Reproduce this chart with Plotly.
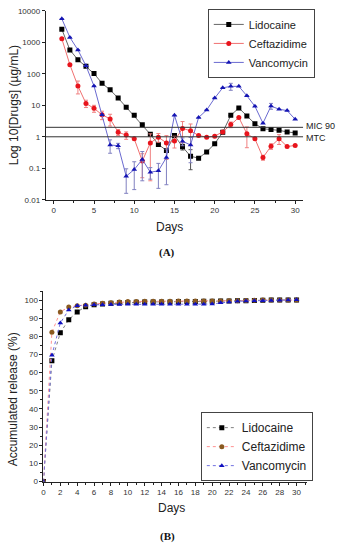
import math
import plotly.graph_objects as go

# ---------------- Panel A data (log scale) ----------------
days_A = list(range(1, 31))
lido_A = [2600, 575, 280, 174, 102, 50, 31, 17, 8.7, 4.8, 2.4, 1.2, 0.57, 0.37, 1.1,
          0.48, 0.24, 0.21, 0.33, 0.6, 1.4, 4.8, 8.2, 4.6, 2.6, 1.8, 1.7, 1.6, 1.43, 1.33]
ceft_A = [1300, 195, 41, 11.5, 8, 5, 3.7, 1.4, 1.13, 0.86, 0.17, 0.64, 0.97, 0.64, 0.74,
          1.85, 1.55, 1.1, 0.97, 1.05, 1.43, 2.45, 4.1, 1.25, 0.86, 0.22, 0.5, 0.87, 0.49, 0.53]
vanc_A = [5600, 1440, 575, 180, 41, 5, 0.55, 0.52, 0.056, 0.091, 0.19, 0.075, 0.083, 0.22, 4.8,
          0.72, 0.55, 4.1, 7.1, 17, 36, 40, 40, 20, 9.3, 2.7, 9.5, 7.5, 6.8, 3.6]
lido_A_err = [0, 0, 0, 0, 0, 0, 0, 0, 0, 0, 0, 0, 0, 0, 0,
              0.1, 0.15, 0, 0, 0, 0, 0, 0, 0, 0, 0, 0, 0, 0, 0]
ceft_A_err = [0, 0, 18, 3, 2, 1.5, 1.5, 0.3, 0.3, 0, 0.12, 0.6, 0.3, 0.45, 0.3,
              1.2, 1.0, 0, 0, 0, 0, 0.5, 0, 0.8, 0, 0.04, 0.1, 0.3, 0, 0]
vanc_A_err = [0, 0, 0, 0, 0, 0, 0.25, 0.1, 0.04, 0.07, 0.15, 0.03, 0.06, 0.19, 0,
              0.2, 0.4, 0, 0, 0, 0, 10, 0, 0, 0, 0, 2, 0, 0, 0]
mic90 = 2
mtc = 1
ref_labels = ["MIC 90", "MTC"]

# ---------------- Panel B data (cumulative release) ----------------
days_B = list(range(0, 31))
lido_B = [0, 66.6, 82, 89.2, 93.5, 96.4, 97.5, 97.8, 98.2, 98.5, 98.7, 98.8, 99, 99, 99, 99,
          99.2, 99.2, 99.2, 99.3, 99.3, 99.5, 99.5, 99.6, 99.7, 99.8, 99.9, 100, 100, 100, 100]
ceft_B = [0, 82.3, 93.5, 96.2, 96.9, 97.2, 97.8, 98.3, 98.6, 99, 99.2, 99.2, 99.3, 99.3, 99.4,
          99.4, 99.5, 99.5, 99.5, 99.5, 99.5, 99.5, 99.6, 99.7, 99.8, 99.9, 100, 100, 100, 100, 100]
vanc_B = [0, 69.6, 87.4, 94.6, 96.9, 97.2, 97.4, 97.5, 97.6, 97.6, 97.7, 97.7, 97.7, 97.7, 97.7,
          97.7, 97.7, 97.7, 97.7, 97.7, 97.8, 98.5, 99.0, 99.3, 99.5, 99.6, 99.7, 99.8, 99.9, 100, 100.2]

names = ["Lidocaine", "Ceftazidime", "Vancomycin"]

W, H = 338, 550
def px(x):
    return x / W
def py(y):
    return 1 - y / H

fig = go.Figure()

# Panel A traces
styleA = [
    dict(name=names[0], y=lido_A, err=lido_A_err, mc="#000000", lc="#666666", sym="square", ec="#555555"),
    dict(name=names[1], y=ceft_A, err=ceft_A_err, mc="#e8141c", lc="#f07070", sym="circle", ec="#f08080"),
    dict(name=names[2], y=vanc_A, err=vanc_A_err, mc="#1414b4", lc="#6a6ad0", sym="triangle-up", ec="#8080c0"),
]
for s in styleA:
    fig.add_trace(go.Scatter(
        x=days_A, y=s["y"], name=s["name"], mode="lines+markers",
        line=dict(color=s["lc"], width=1),
        marker=dict(color=s["mc"], symbol=s["sym"], size=5),
        error_y=dict(type="data", array=s["err"], color=s["ec"], thickness=1, width=2),
        xaxis="x", yaxis="y", legend="legend",
    ))

# Panel B traces
styleB = [
    dict(name=names[0], y=lido_B, mc="#000000", lc="#808080", sym="square"),
    dict(name=names[1], y=ceft_B, mc="#8a5a20", lc="#ff9090", sym="circle"),
    dict(name=names[2], y=vanc_B, mc="#1010c0", lc="#7070e0", sym="triangle-up"),
]
for s in styleB:
    fig.add_trace(go.Scatter(
        x=days_B, y=s["y"], name=s["name"], mode="lines+markers",
        line=dict(color=s["lc"], width=1, dash="dot"),
        marker=dict(color=s["mc"], symbol=s["sym"], size=5),
        xaxis="x2", yaxis="y2", legend="legend2",
    ))

# Reference lines
for v in (mic90, mtc):
    fig.add_shape(type="line", xref="x", yref="y", x0=-1, x1=31, y0=v, y1=v,
                  line=dict(color="#333333", width=1))

tickfont = dict(family="Arial, Liberation Sans, sans-serif", size=8, color="#333333")
axis_common = dict(showline=True, linecolor="#222222", linewidth=1, ticks="outside",
                   ticklen=3, tickcolor="#222222", showgrid=False, zeroline=False,
                   tickfont=tickfont, mirror=False)

fig.update_layout(
    width=W, height=H,
    margin=dict(l=0, r=0, t=0, b=0),
    paper_bgcolor="white", plot_bgcolor="white",
    showlegend=True,
    xaxis=dict(domain=[px(44), px(303)], range=[-1, 31], anchor="y",
               tickvals=[0, 5, 10, 15, 20, 25, 30],
               minor=dict(dtick=2.5, tick0=0, ticks="outside", ticklen=2, tickcolor="#222222"),
               **axis_common),
    yaxis=dict(domain=[py(199), py(7)], type="log", range=[-2, 4], anchor="x",
               tickvals=[0.01, 0.1, 1, 10, 100, 1000, 10000],
               ticktext=["0.01", "0.1", "1", "10", "100", "1000", "10000"],
               **axis_common),
    xaxis2=dict(domain=[px(41.7), px(306.5)], range=[0, 31.2], anchor="y2",
                tickvals=list(range(0, 31, 2)),
                minor=dict(dtick=1, tick0=0, ticks="outside", ticklen=2, tickcolor="#222222"),
                **axis_common),
    yaxis2=dict(domain=[py(485.5), py(291.8)], range=[0, 105], anchor="x2",
                tickvals=list(range(0, 101, 10)),
                minor=dict(dtick=5, tick0=0, ticks="outside", ticklen=2, tickcolor="#222222"),
                **axis_common),
    legend=dict(x=px(207), y=py(5), xanchor="left", yanchor="top",
                bordercolor="#444444", borderwidth=1, bgcolor="white",
                font=dict(family="Arial, Liberation Sans, sans-serif", size=11, color="#222222"),
                tracegroupgap=0, itemwidth=30),
    legend2=dict(x=px(200), y=py(450), xanchor="left", yanchor="middle",
                 bordercolor="#444444", borderwidth=1, bgcolor="white",
                 font=dict(family="Arial, Liberation Sans, sans-serif", size=12, color="#222222"),
                 tracegroupgap=0, itemwidth=30),
)

titlefont = dict(family="Arial, Liberation Sans, sans-serif", size=12, color="#222222")
reffont = dict(family="Arial, Liberation Sans, sans-serif", size=9, color="#222222")
serif = dict(family="Liberation Serif, Times New Roman, serif", size=11, color="#111111")
C = dict(xanchor="center", yanchor="middle", showarrow=False, xref="paper", yref="paper")
ann = [
    dict(text=ref_labels[0], x=px(304), y=math.log10(mic90), xref="paper", yref="y", xanchor="left",
         yanchor="middle", showarrow=False, font=reffont, yshift=1.5),
    dict(text=ref_labels[1], x=px(304), y=math.log10(mtc), xref="paper", yref="y", xanchor="left",
         yanchor="middle", showarrow=False, font=reffont, yshift=-1.5),
    dict(text="Log 10[Drugs] (µg/mL)", x=px(12), y=py(103), textangle=-90, font=titlefont, **C),
    dict(text="Days", x=px(168), y=py(227), font=titlefont, **C),
    dict(text="<b>(A)</b>", x=px(166), y=py(253), font=serif, **C),
    dict(text="Accumulated release (%)", x=px(11), y=py(402), textangle=-90, font=titlefont, **C),
    dict(text="Days", x=px(170.5), y=py(512), font=titlefont, **C),
    dict(text="<b>(B)</b>", x=px(166), y=py(541), font=serif, **C),
]
fig.update_layout(annotations=ann)

fig.write_html("out.html", config={"displayModeBar": False},
               post_script="document.body.style.margin='0';document.body.style.overflow='hidden';")
